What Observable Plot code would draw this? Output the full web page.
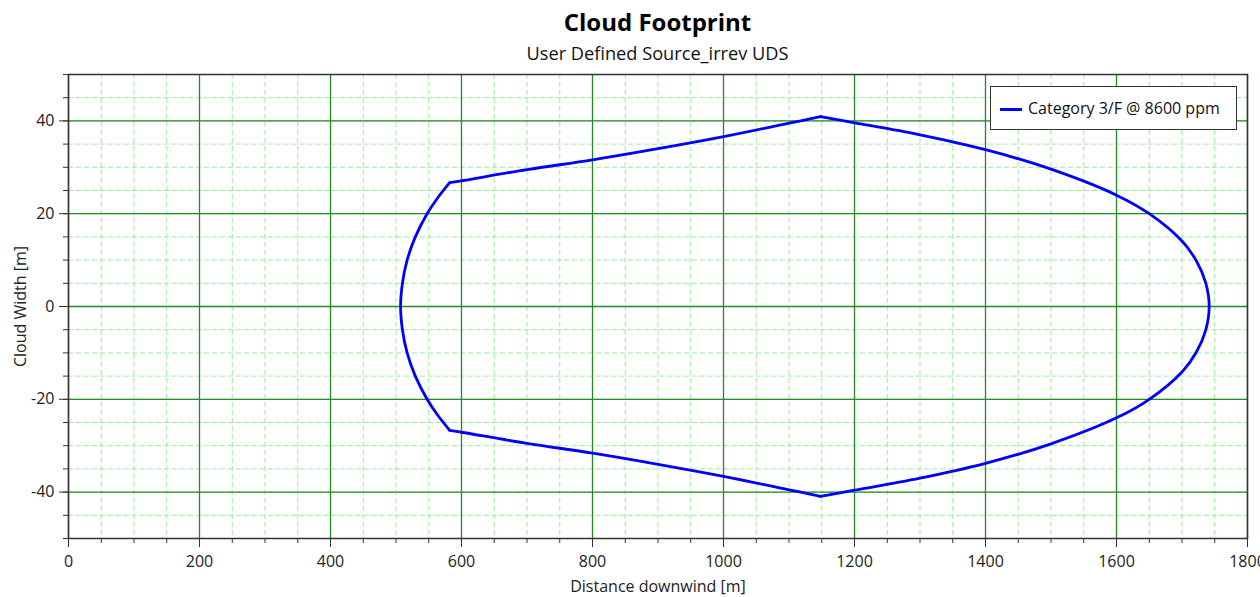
<!DOCTYPE html>
<html>
<head>
<meta charset="utf-8">
<script src="https://cdn.jsdelivr.net/npm/d3@7"></script>
<script src="https://cdn.jsdelivr.net/npm/@observablehq/plot@0.6"></script>
<style>
  body { margin: 0; background: #fff; font-family: "Open Sans", "Noto Sans", sans-serif; }
  #wrap { position: relative; width: 1260px; height: 597px; overflow: hidden; }
  #title { position: absolute; top: 6px; left: 68px; width: 1179px; text-align: center; font-weight: bold; font-size: 24px; color: #000; line-height: 32px; }
  #subtitle { position: absolute; top: 41px; left: 68px; width: 1179px; text-align: center; font-size: 18.2px; color: #111; line-height: 24px; }
  #chart { position: absolute; top: 64px; left: 0; }
  #legend { position: absolute; left: 990px; top: 86px; width: 247px; height: 44px; background: #fff; border: 1px solid #333; box-sizing: border-box; font-size: 16px; color: #111; }
  #legend .swatch { position: absolute; left: 9px; top: 22px; width: 22px; height: 0; border-top: 3px solid #0000ff; margin-top: -1px; }
  #legend .txt { position: absolute; left: 37px; top: 10px; line-height: 22px; white-space: nowrap; }
</style>
</head>
<body>
<div id="wrap">
  <div id="title">Cloud Footprint</div>
  <div id="subtitle">User Defined Source_irrev UDS</div>
  <div id="chart"></div>
  <div id="legend"><div class="swatch"></div><div class="txt">Category 3/F @ 8600 ppm</div></div>
</div>
<script>
// ---- data ----
const seriesName = "Category 3/F @ 8600 ppm";

// left arc (upwind edge)
const leftArcX = [582, 564, 547.5, 529.5, 517, 509.8, 507, 509.8, 517, 529.5, 547.5, 564, 582];
const leftArcY = [26.7, 23.5, 20, 15, 10, 5, 0, -5, -10, -15, -20, -23.5, -26.7];

// upper straight-ish edge
const topEdgeX = [582, 600, 700, 800, 900, 1000, 1100, 1148];
const topEdgeY = [26.7, 27.1, 29.5, 31.6, 34.0, 36.6, 39.5, 40.9];

// lower edge
const bottomEdgeX = [582, 600, 700, 800, 900, 1000, 1100, 1148];
const bottomEdgeY = [-26.7, -27.1, -29.5, -31.6, -34.0, -36.6, -39.5, -40.9];

// downwind rounded edge
const rightArcX = [1148, 1200, 1300, 1400, 1500, 1600, 1650, 1700, 1722, 1736, 1741.5, 1736, 1722, 1700, 1650, 1600, 1500, 1400, 1300, 1200, 1148];
const rightArcY = [40.9, 39.6, 37.0, 33.8, 29.6, 24.0, 20.0, 14.1, 9.8, 5.2, 0, -5.2, -9.8, -14.1, -20.0, -24.0, -29.6, -33.8, -37.0, -39.6, -40.9];

// axis ticks
const xMajorTicks = [0, 200, 400, 600, 800, 1000, 1200, 1400, 1600, 1800];
const xMinorTicks = [0, 50, 100, 150, 200, 250, 300, 350, 400, 450, 500, 550, 600, 650, 700, 750, 800, 850, 900, 950, 1000, 1050, 1100, 1150, 1200, 1250, 1300, 1350, 1400, 1450, 1500, 1550, 1600, 1650, 1700, 1750, 1800];
const yMajorTicks = [-40, -20, 0, 20, 40];
const yMinorTicks = [-50, -45, -40, -35, -30, -25, -20, -15, -10, -5, 0, 5, 10, 15, 20, 25, 30, 35, 40, 45, 50];

// ---- build table ----
const segments = [
  ["left", leftArcX, leftArcY],
  ["top", topEdgeX, topEdgeY],
  ["right", rightArcX, rightArcY],
  ["bottom", bottomEdgeX, bottomEdgeY]
];
const pts = [];
for (const [seg, xs, ys] of segments) {
  xs.forEach((x, i) => pts.push({seg, x, y: ys[i], series: seriesName}));
}

const majorGrid = "#228b22";
const minorGrid = "#9ceb9c";

const chart = Plot.plot({
  width: 1260,
  height: 533,
  marginTop: 10,
  marginBottom: 59,
  marginLeft: 68,
  marginRight: 13,
  style: {fontFamily: '"Open Sans", "Noto Sans", sans-serif', fontSize: "16px", color: "#222", background: "#fff"},
  x: {domain: [0, 1800]},
  y: {domain: [-50, 50]},
  marks: [
    Plot.gridX(xMinorTicks, {stroke: minorGrid, strokeOpacity: 1, strokeDasharray: "5,3"}),
    Plot.gridY(yMinorTicks, {stroke: minorGrid, strokeOpacity: 1, strokeDasharray: "5,3"}),
    Plot.gridX(xMajorTicks, {stroke: majorGrid, strokeOpacity: 1, strokeWidth: 1.3}),
    Plot.gridY(yMajorTicks, {stroke: majorGrid, strokeOpacity: 1, strokeWidth: 1.3}),
    Plot.line(pts, {x: "x", y: "y", z: "seg", stroke: "#0000ff", strokeWidth: 2.8, curve: "catmull-rom"}),
    Plot.axisX(xMinorTicks, {tickSize: 5, text: null, stroke: "#333", label: null}),
    Plot.axisX(xMajorTicks, {tickSize: 9, tickPadding: 8, stroke: "#333", fill: "#222", label: "Distance downwind [m]", labelAnchor: "center", labelArrow: "none", labelOffset: 53, tickFormat: d => String(d)}),
    Plot.axisY(yMinorTicks, {tickSize: 5, text: null, stroke: "#333", label: null}),
    Plot.axisY(yMajorTicks, {tickSize: 9, tickPadding: 5, stroke: "#333", fill: "#222", label: "Cloud Width [m]", labelAnchor: "center", labelArrow: "none", labelOffset: 54, tickFormat: d => String(d)}),
    Plot.frame({stroke: "#333", strokeWidth: 1.5})
  ]
});
document.getElementById("chart").appendChild(chart);
</script>
</body>
</html>
